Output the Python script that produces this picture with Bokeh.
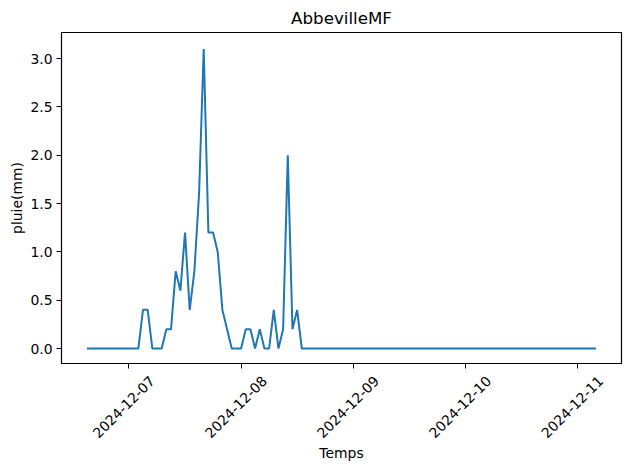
import numpy as np
import pandas as pd
from bokeh.plotting import figure
from bokeh.models import (Range1d, FixedTicker, DatetimeTickFormatter, PrintfTickFormatter,
                          ColumnDataSource, DatetimeAxis)
from bokeh.embed import file_html
from bokeh.resources import INLINE

title = "AbbevilleMF"
x_label = "Temps"
y_label = "pluie(mm)"

start_time = "2024-12-06 15:00"
pluie = [
    0.0, 0.0, 0.0, 0.0, 0.0, 0.0, 0.0, 0.0, 0.0, 0.0, 0.0, 0.0,
    0.4, 0.4, 0.0, 0.0, 0.0, 0.2, 0.2, 0.8, 0.6, 1.2, 0.4, 0.8,
    1.6, 3.1, 1.2, 1.2, 1.0, 0.4, 0.2, 0.0, 0.0, 0.0, 0.2, 0.2,
    0.0, 0.2, 0.0, 0.0, 0.4, 0.0, 0.2, 2.0, 0.2, 0.4, 0.0, 0.0,
    0.0, 0.0, 0.0, 0.0, 0.0, 0.0, 0.0, 0.0, 0.0, 0.0, 0.0, 0.0,
    0.0, 0.0, 0.0, 0.0, 0.0, 0.0, 0.0, 0.0, 0.0, 0.0, 0.0, 0.0,
    0.0, 0.0, 0.0, 0.0, 0.0, 0.0, 0.0, 0.0, 0.0, 0.0, 0.0, 0.0,
    0.0, 0.0, 0.0, 0.0, 0.0, 0.0, 0.0, 0.0, 0.0, 0.0, 0.0, 0.0,
    0.0, 0.0, 0.0, 0.0, 0.0, 0.0, 0.0, 0.0, 0.0, 0.0, 0.0, 0.0,
    0.0, 0.0,
]
x_ticks = ["2024-12-07", "2024-12-08", "2024-12-09", "2024-12-10", "2024-12-11"]
y_ticks = [0.0, 0.5, 1.0, 1.5, 2.0, 2.5, 3.0]

times = pd.date_range(start_time, periods=len(pluie), freq="h")
src = ColumnDataSource(dict(t=times, v=pluie))

span = times[-1] - times[0]
pad = span * 0.05
ymax = max(pluie)

FONT = "DejaVu Sans"
FS = "13.9px"

p = figure(width=630, height=469, x_axis_type="datetime",
           output_backend="svg", toolbar_location=None,
           x_range=Range1d(times[0] - pad, times[-1] + pad),
           y_range=Range1d(-0.05 * ymax, 1.055 * ymax),
           min_border_left=61, min_border_right=9, min_border_top=24, min_border_bottom=106,
           title=title)
p.title.align = "center"
p.title.text_font = FONT
p.title.text_font_size = "16.7px"
p.title.text_font_style = "normal"
p.title.text_color = "black"

p.line("t", "v", source=src, line_color="#1f77b4", line_width=2)

p.xgrid.visible = False
p.ygrid.visible = False
p.outline_line_color = "black"
p.outline_line_alpha = 1.0
p.outline_line_width = 1.2
p.background_fill_color = "white"
p.border_fill_color = "white"

# tick marks at midnight (no labels)
tick_ms = [pd.Timestamp(s).value / 1e6 for s in x_ticks]
p.xaxis.ticker = FixedTicker(ticks=tick_ms)
p.xaxis.major_label_overrides = {t: "" for t in tick_ms}
p.xaxis.major_label_text_font_size = "0px"
p.xaxis.major_label_standoff = 0

# rotated labels, centred on each tick like the original
lab_shift_ms = 5 * 3600 * 1000
lab_ms = [t + lab_shift_ms for t in tick_ms]
lab_axis = DatetimeAxis(ticker=FixedTicker(ticks=lab_ms),
                        formatter=DatetimeTickFormatter(days="%Y-%m-%d", hours="%Y-%m-%d"),
                        major_label_overrides={m: s for m, s in zip(lab_ms, x_ticks)},
                        axis_line_color=None, major_tick_line_color=None, minor_tick_line_color=None,
                        major_tick_out=0, major_tick_in=0,
                        major_label_orientation=np.pi / 4, major_label_standoff=10,
                        major_label_text_font=FONT, major_label_text_font_size=FS,
                        major_label_text_color="black",
                        axis_label=x_label, axis_label_text_font=FONT,
                        axis_label_text_font_size=FS, axis_label_text_font_style="normal",
                        axis_label_text_color="black", axis_label_standoff=-1)
p.add_layout(lab_axis, "below")

p.yaxis.ticker = FixedTicker(ticks=y_ticks)
p.yaxis.formatter = PrintfTickFormatter(format="%.1f")
p.yaxis.major_label_text_font = FONT
p.yaxis.major_label_text_font_size = FS
p.yaxis.major_label_text_color = "black"
p.yaxis.major_label_standoff = 4
p.yaxis.axis_label = y_label
p.yaxis.axis_label_text_font = FONT
p.yaxis.axis_label_text_font_size = FS
p.yaxis.axis_label_text_font_style = "normal"
p.yaxis.axis_label_text_color = "black"
p.yaxis.axis_label_standoff = 2

for ax in (p.xaxis[0], p.yaxis[0]):
    ax.minor_tick_line_color = None
    ax.major_tick_out = 5
    ax.major_tick_in = 0
    ax.major_tick_line_color = "black"
    ax.axis_line_color = "black"

open("out.html", "w").write(file_html(p, INLINE))
